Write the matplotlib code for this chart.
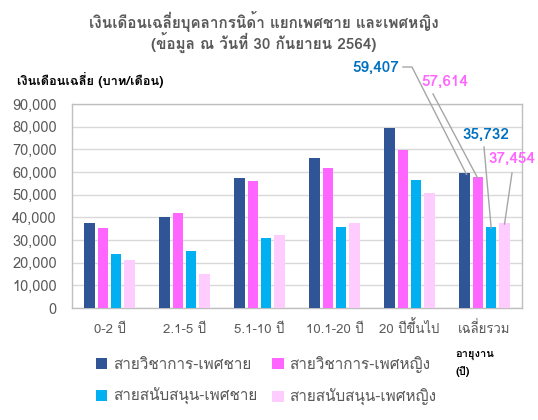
import matplotlib
matplotlib.use("Agg")
import matplotlib.pyplot as plt
from matplotlib import font_manager
from matplotlib.patches import Patch
import numpy as np

# ---- data ----
categories = ["0-2 ปี", "2.1-5 ปี", "5.1-10 ปี", "10.1-20 ปี", "20 ปีขึ้นไป", "เฉลี่ยรวม"]
series_names = ["สายวิชาการ-เพศชาย", "สายวิชาการ-เพศหญิง", "สายสนับสนุน-เพศชาย", "สายสนับสนุน-เพศหญิง"]
acad_male = [37500, 40150, 57350, 66000, 79400, 59407]
acad_female = [35400, 41740, 55850, 61760, 69850, 57614]
supp_male = [23960, 25150, 31000, 35870, 56470, 35732]
supp_female = [21300, 15000, 32000, 37500, 50870, 37454]
yticks = list(range(0, 90001, 10000))

colors = ["#2F5597", "#FF66FF", "#00B0F0", "#FFCCFF"]
label_colors = ["#0070C0", "#FF66FF", "#0070C0", "#FF66FF"]

# ---- find Thai-capable font ----
thai_fonts = []
try:
    from fontTools.ttLib import TTFont
    for f in font_manager.fontManager.ttflist:
        try:
            tt = TTFont(f.fname, fontNumber=0, lazy=True)
            cmap = tt.getBestCmap()
            if cmap and 0x0E01 in cmap:
                if f.name not in thai_fonts:
                    thai_fonts.append(f.name)
        except Exception:
            pass
except Exception:
    pass

preferred = [n for n in ["Loma", "Tahoma", "Garuda", "Anuphan"] if n in thai_fonts]
first = preferred[:1] if preferred else thai_fonts[:1]
fam = first + ["DejaVu Sans"]
plt.rcParams['font.family'] = fam

fig = plt.figure(figsize=(5.38, 4.2), dpi=100)
W, H = 538, 420
ax = fig.add_axes([72 / W, 1 - 308 / H, (522 - 72) / W, (308 - 104) / H])

x = np.arange(len(categories))
data = [acad_male, acad_female, supp_male, supp_female]
pitch = 0.178
width = 0.135
for i, (vals, c) in enumerate(zip(data, colors)):
    ax.bar(x + (i - 1.5) * pitch, vals, width=width, color=c, zorder=3)

ax.set_xlim(-0.5, len(categories) - 0.5)
ax.set_ylim(0, 90000)
ax.set_yticks(yticks)
ax.set_yticklabels([f"{v:,}" for v in yticks])
ax.set_xticks(x)
ax.set_xticklabels(categories)
ax.tick_params(axis='both', length=0, colors="#595959")
ax.tick_params(axis='y', pad=11, labelsize=10.5)
ax.tick_params(axis='x', pad=18, labelsize=9.5)
for t in ax.get_xticklabels():
    t.set_va('baseline')
ax.grid(axis='y', color="#D9D9D9", linewidth=1, zorder=0)
for s in ax.spines.values():
    s.set_color("#BFBFBF")
    s.set_linewidth(1)

# annotations for overall averages
last = len(categories) - 1
ann = [
    (0, (353 + 398) / 2, 68, (403, 67), (412, 67)),
    (1, (422 + 467) / 2, 82, (433, 94), None),
    (2, (462 + 509) / 2, 135, (484, 147), None),
    (3, (488 + 536) / 2, 159, (512, 173), None),
]
for i, tx, ty, start, knee in ann:
    v = data[i][last]
    bx = last + (i - 1.5) * pitch
    fig.text(tx / W, 1 - ty / H, f"{v:,}", color=label_colors[i], fontsize=11,
             fontweight='bold', ha='center', va='center')
    disp = ax.transData.transform((bx, v))
    figpx = (disp[0] / fig.dpi * 100, H - disp[1] / fig.dpi * 100)
    pts = [start] + ([knee] if knee else []) + [(figpx[0] + (2 if i == 0 else 0), figpx[1] + 1)]
    xs = [p[0] / W for p in pts]
    ys = [1 - p[1] / H for p in pts]
    fig.add_artist(plt.Line2D(xs, ys, color="#A6A6A6", linewidth=1, transform=fig.transFigure))

# titles
fig.text(264 / W, 1 - 22 / H, "เงินเดือนเฉลี่ยบุคลากรนิด้า แยกเพศชาย และเพศหญิง", ha='center', va='center',
         fontsize=11, fontweight='bold', color="#595959")
fig.text(264 / W, 1 - 42 / H, "(ข้อมูล ณ วันที่ 30 กันยายน 2564)", ha='center', va='center',
         fontsize=11, fontweight='bold', color="#595959")
fig.text(17 / W, 1 - 80 / H, "เงินเดือนเฉลี่ย (บาท/เดือน)", ha='left', va='center',
         fontsize=9.2, fontweight='bold', color="#000000")
fig.text(455 / W, 1 - 355 / H, "อายุงาน", ha='left', va='center',
         fontsize=8, fontweight='bold', color="#000000")
fig.text(455 / W, 1 - 372 / H, "(ปี)", ha='left', va='center',
         fontsize=8, fontweight='bold', color="#000000")

order = [0, 2, 1, 3]
handles = [Patch(facecolor=colors[k], edgecolor='none') for k in order]
labels = [series_names[k] for k in order]
leg = fig.legend(handles, labels, ncol=2, loc='center', bbox_to_anchor=(266 / W, 1 - 381 / H),
                 frameon=False, fontsize=11, handlelength=0.75, handleheight=0.75,
                 handletextpad=0.35, columnspacing=1.0, labelspacing=1.05)
for t in leg.get_texts():
    t.set_color("#595959")

fig.savefig("out.png", dpi=100)
